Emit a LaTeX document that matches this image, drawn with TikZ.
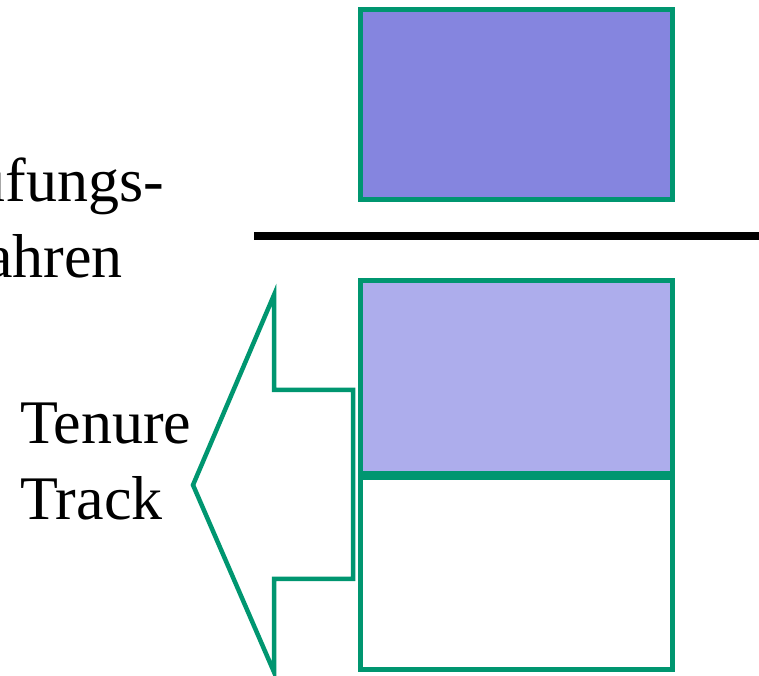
\documentclass[tikz,border=0pt]{standalone}
\usepackage{fontspec}
\setmainfont{Liberation Serif}
\usetikzlibrary{positioning}
\definecolor{rahmen}{RGB}{0,150,112}
\definecolor{lila}{RGB}{133,133,223}
\definecolor{hellila}{RGB}{173,173,236}
\tikzset{
	x=1pt, y=1pt,
	stelle/.style={draw=rahmen, line width=5pt, inner sep=0pt, outer sep=0pt,
		minimum width=312pt}, % Kasten fuer eine Stelle
	schrift/.style={inner sep=0pt, align=left,
		font=\fontsize{62}{76}\selectfont}, % Beschriftung links
	pfeil/.style={draw=rahmen, line width=4.5pt, line join=miter} % Umriss des Pfeils
}

\begin{document}
\begin{tikzpicture}
	\useasboundingbox (0,0) rectangle (759,676);
	\node[stelle, fill=lila, minimum height=190pt] (oben) at (516.5,571.5) {};
	\node[stelle, fill=hellila, minimum height=193pt] (mitte) at (516.5,298.5) {};
	\node[stelle, fill=white, minimum height=191.5pt] (unten) at (516.5,102.25) {};
	\node[schrift, anchor=base west] (beruf) at (-115,398) {Berufungs-\\verfahren};
	\node[schrift, anchor=base west] (tenure) at (20,156) {Tenure\\Track};
	% Trennlinie
	\coordinate (links) at (254,440);
	\coordinate (rechts) at (765,440);
	\draw[line width=8pt] (links) -- (rechts);
	% Pfeil nach links
	\coordinate (spitze) at (193,191);
	\draw[pfeil] (spitze) -- (274,381) -- (274,286) -- (353,286)
		-- (353,97) -- (274,97) -- (274,4) -- cycle;
\end{tikzpicture}
\end{document}
